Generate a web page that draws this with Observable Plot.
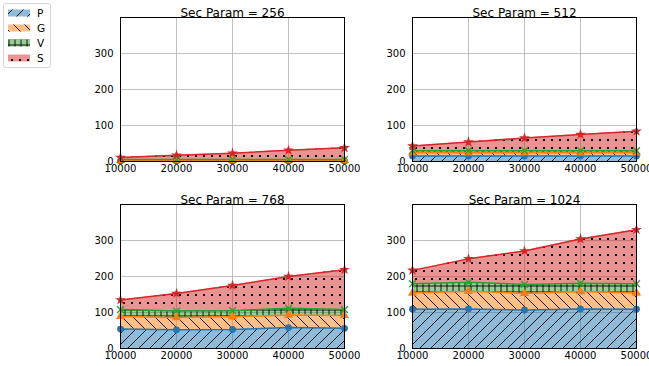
<!DOCTYPE html>
<html><head><meta charset="utf-8">
<script src="https://cdn.jsdelivr.net/npm/d3@7"></script>
<script src="https://cdn.jsdelivr.net/npm/@observablehq/plot@0.6"></script>
<style>
body{margin:0;background:#fff;overflow:hidden;font-family:"DejaVu Sans",sans-serif;}
#root{position:relative;width:649px;height:366px;overflow:hidden;}
.panel{position:absolute;}
</style></head><body>
<svg width="0" height="0" style="position:absolute">
<defs>
<pattern id="hatchP" patternUnits="userSpaceOnUse" width="11" height="11"><path d="M0,11L11,0M-3,3L3,-3M8,14L14,8" stroke="#000" stroke-width="0.9"/></pattern>
<pattern id="hatchG" patternUnits="userSpaceOnUse" width="11" height="11"><path d="M0,0L11,11M-3,8L3,14M8,-3L14,3" stroke="#000" stroke-width="0.9"/></pattern>
<pattern id="hatchV" patternUnits="userSpaceOnUse" width="6" height="6"><path d="M3,0V6M0,3H6" stroke="#000" stroke-width="0.9"/></pattern>
<pattern id="hatchS" patternUnits="userSpaceOnUse" width="8" height="8"><rect x="3" y="3" width="2" height="2" fill="#000"/></pattern>
</defs></svg>
<div id="root"></div>
<script>
// ---- data ----
const xValues = [10000, 20000, 30000, 40000, 50000];
const xTicks = [10000, 20000, 30000, 40000, 50000];
const yTicks = [0, 100, 200, 300];
const seriesNames = ["P", "G", "V", "S"];
const seriesColors = ["#1f77b4", "#ff7f0e", "#2ca02c", "#d62728"];
const seriesSymbols = ["circle", "triangle", "times", "star"];
const hatchIds = ["hatchP", "hatchG", "hatchV", "hatchS"];
const panelTitles = ["Sec Param = 256", "Sec Param = 512", "Sec Param = 768", "Sec Param = 1024"];

// per-series (unstacked) values for each panel
const P256 = [1.5, 1.5, 1.5, 1.5, 1.5];
const G256 = [2, 2, 2, 2, 2];
const V256 = [2, 2, 2, 2, 2];
const S256 = [5.5, 12, 17.5, 25.5, 32.5];

const P512 = [15, 15, 15, 15, 15];
const G512 = [9, 9, 9, 9, 9];
const V512 = [6, 6, 6, 6, 6];
const S512 = [13, 24, 35, 45, 54];

const P768 = [54, 52, 53, 58, 56];
const G768 = [35, 34, 35, 35, 36];
const V768 = [19, 18, 17, 19, 16];
const S768 = [27, 49, 70, 88, 111];

const P1024 = [109, 110, 107, 110, 109];
const G1024 = [45, 49, 46, 48, 45];
const V1024 = [26, 25, 25, 23, 26];
const S1024 = [37, 65, 93, 123, 150];

const panelSeries = [
  [P256, G256, V256, S256],
  [P512, G512, V512, S512],
  [P768, G768, V768, S768],
  [P1024, G1024, V1024, S1024]
];

// ---- layout ----
const panelPos = [[80, 0], [371.5, 0], [80, 187], [371.5, 187]];
const root = document.getElementById("root");

panelSeries.forEach((series, pi) => {
  // stack
  const rows = [];
  const base = xValues.map(() => 0);
  series.forEach((vals, si) => {
    xValues.forEach((x, i) => {
      const y1 = base[i], y2 = base[i] + vals[i];
      rows.push({x, series: seriesNames[si], si, y1, y2});
      base[i] = y2;
    });
  });
  const marks = [
    Plot.gridX(xTicks, {stroke: "#b0b0b0", strokeOpacity: 1, strokeWidth: 0.8}),
    Plot.gridY(yTicks, {stroke: "#b0b0b0", strokeOpacity: 1, strokeWidth: 0.8})
  ];
  seriesNames.forEach((s, si) => {
    const d = rows.filter(r => r.si === si);
    marks.push(Plot.areaY(d, {x: "x", y1: "y1", y2: "y2", fill: seriesColors[si], fillOpacity: 0.5}));
    marks.push(Plot.areaY(d, {x: "x", y1: "y1", y2: "y2", fill: `url(#${hatchIds[si]})`}));
  });
  seriesNames.forEach((s, si) => {
    const d = rows.filter(r => r.si === si);
    marks.push(Plot.lineY(d, {x: "x", y: "y2", stroke: seriesColors[si], strokeWidth: 1.5}));
  });
  seriesNames.forEach((s, si) => {
    const d = rows.filter(r => r.si === si);
    if (seriesSymbols[si] === "times")
      marks.push(Plot.dot(d, {x: "x", y: "y2", symbol: "times", stroke: seriesColors[si], strokeWidth: 1.3, r: 3.2}));
    else
      marks.push(Plot.dot(d, {x: "x", y: "y2", symbol: seriesSymbols[si], fill: seriesColors[si], stroke: "none", r: seriesSymbols[si] === "star" ? 3.4 : 3.4}));
  });
  marks.push(Plot.frame({stroke: "black", strokeWidth: 1}));
  marks.push(Plot.text([panelTitles[pi]], {text: d => d, frameAnchor: "top", dy: -9, fontSize: 12}));

  const chart = Plot.plot({
    width: 290, height: 185,
    marginLeft: 40, marginRight: 26, marginTop: 17, marginBottom: 24,
    style: {fontFamily: "DejaVu Sans, sans-serif", fontSize: "10px", color: "black", background: "transparent", overflow: "visible"},
    x: {domain: [10000, 50000], ticks: xTicks, tickFormat: d => String(d), tickSize: 0, tickPadding: 3, label: null},
    y: {domain: [0, 400], ticks: yTicks, tickSize: 0, tickPadding: 7, label: null},
    marks
  });
  chart.classList.add("panel");
  chart.style.left = panelPos[pi][0] + "px";
  chart.style.top = panelPos[pi][1] + "px";
  root.appendChild(chart);
});

// ---- legend ----
const leg = d3.select(root).append("svg")
  .attr("width", 60).attr("height", 75)
  .style("position", "absolute").style("left", "0px").style("top", "0px")
  .style("font-family", "DejaVu Sans, sans-serif").style("font-size", "10.5px");
leg.append("rect").attr("x", 3.5).attr("y", 3.5).attr("width", 47).attr("height", 64)
  .attr("rx", 2.5).attr("fill", "white").attr("fill-opacity", 0.8).attr("stroke", "#d5d5d5");
seriesNames.forEach((s, si) => {
  const y = 9.5 + 15 * si;
  leg.append("rect").attr("x", 8).attr("y", y).attr("width", 22).attr("height", 7)
    .attr("fill", seriesColors[si]).attr("fill-opacity", 0.5);
  leg.append("rect").attr("x", 8).attr("y", y).attr("width", 22).attr("height", 7)
    .attr("fill", `url(#${hatchIds[si]})`);
  leg.append("text").attr("x", 37).attr("y", y + 3.5).attr("dy", "0.35em").text(s);
});
</script>
</body></html>
